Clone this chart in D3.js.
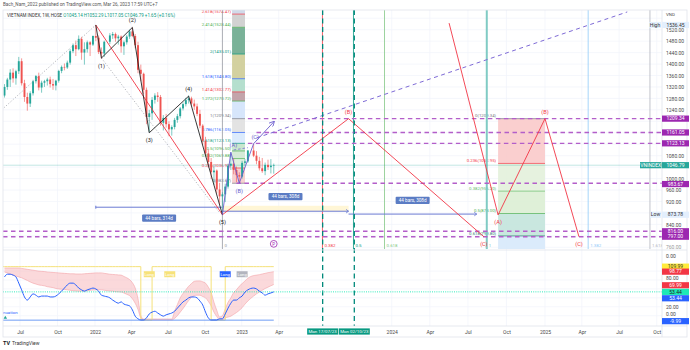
<!DOCTYPE html>
<html><head><meta charset="utf-8">
<script src="https://cdn.jsdelivr.net/npm/d3@7"></script>
<style>body{margin:0;background:#fff} svg{display:block;font-family:Roboto,'Liberation Sans',sans-serif}</style>
</head><body><svg id="c" width="690" height="350"></svg>
<script>
// ---------------- DATA ----------------
const weeks = [
 "2021-05-24","2021-05-31","2021-06-07","2021-06-14","2021-06-21","2021-06-28","2021-07-05","2021-07-12","2021-07-19","2021-07-26",
 "2021-08-02","2021-08-09","2021-08-16","2021-08-23","2021-08-30","2021-09-06","2021-09-13","2021-09-20","2021-09-27","2021-10-04",
 "2021-10-11","2021-10-18","2021-10-25","2021-11-01","2021-11-08","2021-11-15","2021-11-22","2021-11-29","2021-12-06","2021-12-13",
 "2021-12-20","2021-12-27",
 "2022-01-03","2022-01-10","2022-01-17","2022-01-24","2022-02-07","2022-02-14","2022-02-21","2022-02-28","2022-03-07","2022-03-14",
 "2022-03-21","2022-03-28","2022-04-04","2022-04-11","2022-04-18","2022-04-25","2022-05-02","2022-05-09","2022-05-16","2022-05-23",
 "2022-05-30","2022-06-06","2022-06-13","2022-06-20","2022-06-27","2022-07-04","2022-07-11","2022-07-18","2022-07-25","2022-08-01",
 "2022-08-08","2022-08-15","2022-08-22","2022-08-29","2022-09-05","2022-09-12","2022-09-19","2022-09-26","2022-10-03","2022-10-10",
 "2022-10-17","2022-10-24","2022-10-31","2022-11-07","2022-11-14","2022-11-21","2022-11-28","2022-12-05","2022-12-12","2022-12-19",
 "2022-12-26",
 "2023-01-02","2023-01-09","2023-01-16","2023-01-30","2023-02-06","2023-02-13","2023-02-20","2023-02-27","2023-03-06","2023-03-13",
 "2023-03-20"];
const opens = [
 1290,1320,1346,1370,1350,1375,1410,1333,1285,1262,1298,1340,1358,1318,1335,1340,1346,1330,1325,1342,1376,1390,1388,1405,1445,1466,1452,1488,1440,1452,1476,1468,
 1498,1492,1442,1437, 1478,1500,1505,1490, 1496,1462,1476,1496, 1514,1498,1466,1380, 1366,1310,1215,1228,1275, 1290,1285,1195,1212,
 1190,1172,1180,1205, 1218,1245,1260,1274,1280, 1262,1252,1226,1185, 1132,1088,1058,1022,1028, 962,938,945,972, 1045,1052,1030,1012,
 1007,1055,1060,1098,1080,1062,1036,1026,1048,1040,1045.14];
const highs = [
 1330,1352,1382,1385,1380,1425,1420,1345,1300,1305,1345,1362,1370,1342,1345,1352,1356,1348,1345,1380,1395,1402,1412,1452,1472,1482,1500,1495,1476,1482,1480,1500,
 1536.45,1500,1458,1482, 1508,1512,1510,1502, 1500,1482,1502,1520, 1528,1505,1478,1398, 1370,1318,1240,1285,1298, 1302,1292,1222,1226,
 1200,1186,1212,1226, 1250,1266,1282,1290,1286, 1276,1262,1240,1190, 1146,1102,1072,1045,1032, 985,952,982,1052, 1092,1070,1042,1022,
 1062,1068,1100,1122,1096,1076,1072,1056,1066,1068,1052.29];
const lows = [
 1283,1310,1320,1335,1328,1365,1325,1268,1237,1250,1290,1332,1308,1300,1320,1325,1318,1310,1308,1335,1368,1378,1383,1398,1438,1428,1448,1415,1398,1440,1428,1463,
 1480,1435,1418,1425, 1470,1488,1478,1468, 1440,1432,1468,1488, 1494,1455,1368,1340, 1295,1190,1162,1205,1262, 1268,1185,1168,1178,
 1148,1150,1172,1195, 1210,1238,1252,1262,1255, 1240,1218,1176,1118, 1078,1038,998,978,948, 910,873.78,918,965, 1030,1015,988,984,
 1000,1045,1055,1075,1050,1028,1020,1012,1030,1018,1017.05];
const closes = [
 1320,1346,1370,1350,1375,1410,1333,1285,1262,1298,1340,1358,1318,1335,1340,1346,1330,1325,1342,1376,1390,1388,1405,1445,1466,1452,1488,1440,1452,1476,1468,1498,
 1492,1442,1437,1478, 1500,1505,1490,1496, 1462,1476,1496,1514, 1498,1466,1380,1366, 1310,1215,1228,1275,1290, 1285,1195,1212,1190,
 1172,1180,1205,1218, 1245,1260,1274,1280,1262, 1252,1226,1185,1132, 1088,1058,1022,1028,962, 938,945,972,1045, 1052,1030,1012,1007,
 1055,1060,1098,1080,1062,1036,1026,1048,1040,1045.14,1046.79];
// oscillator (lower pane)
const oscValues = [
 87,93,93,91,87,73,58,42,35,42,49,46,42,44,44,44,42,42,44,49,55,62,69,73,73,69,62,58,55,58,60,62,
 60,55,46,44, 40,35,31,28, 31,26,24,22, 13,-1,-7,-9.6, -9.6,-5,4,8,10, 6,2,-1,2, 4,6,10,17, 24,31,35,40,42, 42,40,33,24, 8,-5,-9.6,-9.6,-9.6, -7,-7,4,17, 28,35,35,40,
 44,53,58,62,60,55,51,46,49,51,53.44];
const bandUpper = [
 107,107,107,107,107,107,106,105,104,103,102,101,100,99.5,99,98,97.5,97,96.5,96,95.5,95,94.5,94,94,93.5,93.5,93.5,94,94.5,95,95.5,
 96,96,96,95, 93,92.5,92,91.5, 91,88,85,81, 74,62,38,0, -7.5,-7.5,-7.5,-7.5,-7.5, -7.5,-7.5,-7.5,-7.5, -7.5,-7.5,10,25, 40,50,58,66,72, 77,78,78,76, 73,64,52,30,12, -3,0,15,30, 40,52,58,66,
 72,78,84,90,91,92,93.5,95,96.5,97.5,98.77];
const bandLower = [
 98,96,93.5,91,89,87,85,82,79,75.6,73,71,69,68,67,65,64,63,61,60,59.5,59,58,57,56,55.5,55,55,55.5,56,57,57.5,
 58,58,58,57, 55.5,55,54,53.5, 53,51,48,45, 38,28,14,-5, -9.6,-9.6,-9.6,-9.6,-9.6, -9.6,-9.6,-9.6,-9.6, -9.6,-9.6,-6,0, 8,16,25,34,41, 45,46,46,43, 40,32,22,8,-2, -9,-9,-5,-3, -1,3,7,12,
 18,26,33,44,49,53,57,61,64,67,69.99];
const longSignal = [
 1,1,1,1,1,1,1,1,1,1,1,1,1,1,1,1,1,1,1,1,1,1,1,1,1,1,1,1,1,1,1,1,
 1,1,1,1, 1,1,1,1, 1,1,1,1, 1,1,1,0, 0,0,0,1,1, 1,1,1,1, 1,1,1,1, 1,1,1,1,1, 1,1,1,1, 1,1,0,0,0, 0,0,1,1, 1,1,1,1,
 1,1,1,1,1,1,1,1,1,1,1];
const oscHi = 109.99, oscLo = -9.99, oscSignalLevel = 53.44;

// axes ticks
const timeTickDates = ["2021-07-01","2021-10-01","2022-01-01","2022-04-01","2022-07-01","2022-10-01","2023-01-01","2023-04-01",
  "2024-01-01","2024-04-01","2024-07-01","2024-10-01","2025-01-01","2025-04-01","2025-07-01","2025-10-01"];
const timeTickLabels = ["Jul","Oct","2022","Apr","Jul","Oct","2023","Apr","2024","Apr","Jul","Oct","2025","Apr","Jul","Oct"];
const priceTickLabels = [1520,1480,1440,1400,1360,1320,1280,1240,1080,1000,960,920,840,760];
const oscTickLabels = [80,20,0];

// drawings
const waveDates = ["2022-01-03","2022-01-17","2022-04-04","2022-05-16","2022-08-22","2022-11-14"];
const wavePrices = [1536.45,1421,1528,1160,1288,873.78];
const waveLabels = ["","(1)","(2)","(3)","(4)","(5)"];
const abcDates = ["2022-11-14","2022-12-05","2022-12-26","2023-01-30"];
const abcPrices = [873.78,1092,984,1122];
const abcLabels = ["","(A)","(B)","(C)"];
const redPathADates = ["2022-01-03","2022-11-14","2023-09-18","2024-08-08"];
const redPathAPrices = [1536.45,873.78,1209.34,797];
const redPathALabels = ["","","(B)","(C)"];
const redPathBDates = ["2024-05-17","2024-09-11","2025-01-01","2025-03-25"];
const redPathBPrices = [1543,873,1209.34,797];
const redPathBLabels = ["","(A)","(B)","(C)"];
const levelPrices = [1209.34,1161.05,1123.13,983.67,816.00,797.00];
const levelStarts = ["2023-01-16","2023-02-06","2023-01-16","2022-12-19","2021-05-01","2021-05-01"];
const fibL_levels = [0,0.236,0.382,0.5,0.618,0.786,1,1.272,1.414,1.618,2,2.414,2.618,3.618];
const fibL_colors = ["#787b86","#f23645","#4caf50","#4caf50","#089981","#2962ff","#787b86","#4caf50","#f23645","#2962ff","#089981","#4caf50","#f23645","#9c27b0"];
const fibL_bands = ["#f6c8c8","#dcefdc","#cfe8d0","#bfe3c6","#d6e8fb","#dedede","#d0e2fa","#b9959c","#a8d9c6","#cbc98f","#63a586","#cacaca","#c9d3e6"];
const fibR_levels = [0,0.236,0.382,0.5,0.618,0.786];
const fibR_colors = ["#787b86","#f23645","#66bb6a","#4caf50","#2e7d6f","#64b5f6"];
const fibR_bands = ["#f9caca","#e3f1dc","#dceed4","#c3e4dc","#d7e9fb"];
const zoneLevels = [0,0.382,0.5,0.618,1,1.382,1.618];
const zoneColors = ["#9598a1","#f23645","#089981","#81c784","#80cbc4","#90caf9","#b2b5be"];
const rangeFrom = ["2022-01-03","2022-11-14","2023-09-18"];
const rangeTo = ["2022-11-14","2023-09-18","2024-07-22"];
const rangePrice = [900,886,876];
const rangeText = ["44 bars, 314d","44 bars, 308d","44 bars, 308d"];
const rangeLabelPrice = [862,937,924];
const vDates = ["2023-07-17","2023-10-02"];
const vLabels = ["Mon 17/07/23","Mon 02/10/23"];
const longDates = ["2022-05-16","2022-07-06","2022-11-21","2023-01-02"];
const longColors = ["#f7e27a","#f7e27a","#2962ff","#b2b5be"];

// ---------------- SCALES ----------------
const P = d3.utcParse("%Y-%m-%d");
const L = 3, R = 662, MT = 10, MB = 249, OT = 251, OB = 326, TB = 337;
const x = d3.scaleUtc()
  .domain(["2021-07-01","2022-01-01","2023-01-01","2024-01-01","2025-01-01","2025-10-01"].map(P))
  .range([20,95,241.7,391.7,545,656.7]);
const y = d3.scaleLinear().domain([760,1520]).range([247.3,29.7]);
const yo = d3.scaleLinear().domain([0,100]).range([315.7,271.1]);

const svg = d3.select("#c");
const FS = 5;
svg.append("rect").attr("width",690).attr("height",350).attr("fill","#fff");
const defs = svg.append("defs");
defs.append("clipPath").attr("id","cm").append("rect").attr("x",L).attr("y",MT).attr("width",R-L).attr("height",MB-MT);
defs.append("clipPath").attr("id","co").append("rect").attr("x",L).attr("y",OT).attr("width",R-L).attr("height",OB-OT);
defs.append("marker").attr("id","arr").attr("viewBox","0 0 10 10").attr("refX",8).attr("refY",5)
  .attr("markerWidth",6).attr("markerHeight",6).attr("orient","auto")
  .append("path").attr("d","M0,0 L10,5 L0,10").attr("fill","none").attr("stroke","#6a5acd").attr("stroke-width",1.5);

// header
svg.append("text").attr("x",3).attr("y",6).attr("font-size",4.6).attr("fill","#555")
  .text("Bach_Nam_2022 published on TradingView.com, Mar 26, 2023 17:59 UTC+7");

// grid
const grid = svg.append("g").attr("stroke","#f0f3fa").attr("stroke-width",0.7);
timeTickDates.forEach(d=>{ grid.append("line").attr("x1",x(P(d))).attr("x2",x(P(d))).attr("y1",MT).attr("y2",OB); });
d3.range(760,1561,40).forEach(p=>{ if(y(p)>MT) grid.append("line").attr("x1",L).attr("x2",R).attr("y1",y(p)).attr("y2",y(p)); });
[0,20,40,60,80,100].forEach(v=>grid.append("line").attr("x1",L).attr("x2",R).attr("y1",yo(v)).attr("y2",yo(v)));

const main = svg.append("g").attr("clip-path","url(#cm)");

// left fib column
const fLx0 = x(P("2022-12-08")), fLx1 = x(P("2023-01-09"));
const fibLPrice = l => 983.67 + l*(1209.34-983.67);
fibL_bands.forEach((c,k)=>{
  const yTop = y(fibLPrice(fibL_levels[k+1])), yBot = y(fibLPrice(fibL_levels[k]));
  main.append("rect").attr("x",fLx0).attr("width",fLx1-fLx0).attr("y",yTop).attr("height",yBot-yTop).attr("fill",c).attr("opacity",0.85);
});
fibL_levels.slice(0,13).forEach((l,k)=>{
  const yy = y(fibLPrice(l));
  main.append("line").attr("x1",fLx0).attr("x2",fLx1).attr("y1",yy).attr("y2",yy).attr("stroke",fibL_colors[k]).attr("stroke-width",0.7);
  main.append("text").attr("x",fLx0-1).attr("y",yy-1.2).attr("text-anchor","end").attr("font-size",4.3)
    .attr("fill",fibL_colors[k]).text(`${l}(${fibLPrice(l).toFixed(2)})`);
});

// right fib
const fRx0 = x(P("2024-09-11")), fRx1 = x(P("2025-01-01"));
const fibRPrice = l => 1209.34 - l*(1209.34-546.66);
fibR_bands.forEach((c,k)=>{
  const yTop = y(fibRPrice(fibR_levels[k])), yBot = y(fibRPrice(fibR_levels[k+1]));
  main.append("rect").attr("x",fRx0).attr("width",fRx1-fRx0).attr("y",yTop).attr("height",yBot-yTop).attr("fill",c).attr("opacity",0.9);
});
fibR_levels.slice(0,5).forEach((l,k)=>{
  const yy = y(fibRPrice(l));
  main.append("line").attr("x1",fRx0).attr("x2",fRx1).attr("y1",yy).attr("y2",yy).attr("stroke",fibR_colors[k]).attr("stroke-width",0.7);
  main.append("text").attr("x",fRx0-2).attr("y",yy-1.2).attr("text-anchor","end").attr("font-size",4.3)
    .attr("fill",fibR_colors[k]).text(`${l}(${fibRPrice(l).toFixed(2)})`);
});

// fib time zones
const zt0 = P("2022-11-14").getTime(), zt1 = P("2024-08-15").getTime();
zoneLevels.forEach((l,k)=>{
  const xx = x(new Date(zt0 + l*(zt1-zt0)));
  main.append("line").attr("x1",xx).attr("x2",xx).attr("y1",MT).attr("y2",MB)
    .attr("stroke",zoneColors[k]).attr("stroke-width", l===1?2:0.8);
  main.append("text").attr("x",xx+2).attr("y",246.5).attr("font-size",4.4).attr("fill",zoneColors[k]).text(l);
});

// range measurements
rangeFrom.forEach((f,k)=>{
  const x0 = x(P(f)), x1 = x(P(rangeTo[k])), yy = y(rangePrice[k]);
  if(k===1) main.append("rect").attr("x",x0).attr("y",y(905)).attr("width",x1-x0).attr("height",yy-y(905)).attr("fill","#fff4cc").attr("opacity",0.8);
  main.append("line").attr("x1",x0).attr("x2",x1).attr("y1",yy).attr("y2",yy).attr("stroke","#6b7bd3").attr("stroke-width",1);
  if(k===0) main.append("line").attr("x1",x0).attr("x2",x0).attr("y1",yy-1.5).attr("y2",yy+1.5).attr("stroke","#6b7bd3");
  else main.append("path").attr("d",`M${x1-2.5},${yy-1.8} L${x1},${yy} L${x1-2.5},${yy+1.8}`).attr("fill","none").attr("stroke","#6b7bd3").attr("stroke-width",0.8);
  const cx = (x0+x1)/2, cy = y(rangeLabelPrice[k]);
  main.append("rect").attr("x",cx-17).attr("y",cy-3.6).attr("width",34).attr("height",7.2).attr("rx",1).attr("fill","#5b7cc4");
  main.append("text").attr("x",cx).attr("y",cy+1.7).attr("text-anchor","middle").attr("font-size",4.6).attr("fill","#fff").text(rangeText[k]);
});

// current price line
main.append("line").attr("x1",L).attr("x2",R).attr("y1",y(1046.79)).attr("y2",y(1046.79)).attr("stroke","#26a69a").attr("stroke-opacity",0.35).attr("stroke-width",0.8);

// candles
const up = "#26a69a", dn = "#ef5350";
weeks.forEach((d,i)=>{
  const xx = x(P(d)), c = closes[i]>=opens[i]?up:dn;
  main.append("line").attr("x1",xx).attr("x2",xx).attr("y1",y(highs[i])).attr("y2",y(lows[i])).attr("stroke",c).attr("stroke-width",0.6);
  const yT = y(Math.max(opens[i],closes[i])), yB = y(Math.min(opens[i],closes[i]));
  main.append("rect").attr("x",xx-0.95).attr("width",1.9).attr("y",yT).attr("height",Math.max(0.6,yB-yT)).attr("fill",c);
});

// horizontal purple levels
levelPrices.forEach((p,k)=>{
  main.append("line").attr("x1",Math.max(L,x(P(levelStarts[k])))).attr("x2",R).attr("y1",y(p)).attr("y2",y(p))
    .attr("stroke","#b35ec9").attr("stroke-width",1.4).attr("stroke-dasharray","4.5,3.5");
});

// gray dotted helper lines
const dotted = [[["2021-05-17",1240],["2022-01-03",1536.45]],[["2022-01-17",1421],["2022-11-07",880]]];
dotted.forEach(seg=>{
  main.append("line").attr("x1",x(P(seg[0][0]))).attr("y1",y(seg[0][1])).attr("x2",x(P(seg[1][0]))).attr("y2",y(seg[1][1]))
    .attr("stroke","#9598a1").attr("stroke-width",0.7).attr("stroke-dasharray","1.2,1.8");
});

// paths
const lineGen = d3.line().x(d=>x(P(d[0]))).y(d=>y(d[1]));
function drawPath(dates, prices, labels, color, w, above, dxFn){
  const pts = dates.map((d,i)=>[d,prices[i]]);
  main.append("path").attr("d",lineGen(pts)).attr("fill","none").attr("stroke",color).attr("stroke-width",w);
  pts.forEach((p,i)=>{
    if(!labels[i]) return;
    const hi = above(i);
    main.append("text").attr("x",x(P(p[0])) + (dxFn?dxFn(i):0)).attr("y",y(p[1]) + (hi?-5:9.5)).attr("text-anchor","middle")
      .attr("font-size",5.6).attr("fill",color).text(labels[i]);
  });
}
drawPath(redPathADates, redPathAPrices, redPathALabels, "#f23645", 0.9, i=>i===2);
drawPath(redPathBDates, redPathBPrices, redPathBLabels, "#f23645", 0.9, i=>i===2);
drawPath(waveDates, wavePrices, waveLabels, "#222", 0.9, i=>i===2||i===4);
drawPath(abcDates, abcPrices, abcLabels, "#6a5acd", 0.9, i=>i!==2, i=>i===1?2.5:(i===3?1.5:0));

// purple arrow and long dashed projection
main.append("line").attr("x1",x(P("2023-01-30"))).attr("y1",y(1122)).attr("x2",x(P("2023-03-20"))).attr("y2",y(1198))
  .attr("stroke","#6a5acd").attr("stroke-width",0.9).attr("marker-end","url(#arr)");
main.append("line").attr("x1",x(P("2023-02-06"))).attr("y1",y(1142)).attr("x2",x(P("2025-07-21"))).attr("y2",y(1582))
  .attr("stroke","#7e6ad6").attr("stroke-width",1).attr("stroke-dasharray","4,3.5");
main.append("line").attr("x1",x(P("2022-12-12"))).attr("y1",y(1100)).attr("x2",x(P("2023-01-16"))).attr("y2",y(1108))
  .attr("stroke","#7e6ad6").attr("stroke-width",0.8).attr("stroke-dasharray","2.5,2");

// idea icon
main.append("circle").attr("cx",x(P("2023-03-20"))).attr("cy",y(772)).attr("r",3.4).attr("fill","#fff").attr("stroke","#9c27b0").attr("stroke-width",0.8);
main.append("text").attr("x",x(P("2023-03-20"))).attr("y",y(772)+1.7).attr("text-anchor","middle").attr("font-size",4.5).attr("fill","#9c27b0").text("P");

// vertical teal dashed lines
vDates.forEach(d=>{
  svg.append("line").attr("x1",x(P(d))).attr("x2",x(P(d))).attr("y1",MT).attr("y2",OB)
    .attr("stroke","#00897b").attr("stroke-width",1.3).attr("stroke-dasharray","5,3.5");
});

// legend
const leg = svg.append("text").attr("x",7).attr("y",17).attr("font-size",4.5);
leg.append("tspan").attr("fill","#333").text("VIETNAM INDEX, 1W, HOSE ");
leg.append("tspan").attr("fill","#089981").text(`O${opens[93]} H${highs[93]} L${lows[93]} C${closes[93]} +1.65 (+0.16%)`);

// ---------------- OSCILLATOR ----------------
const osc = svg.append("g").attr("clip-path","url(#co)");
const od = weeks.map((d,i)=>({t:P(d),v:oscValues[i],u:bandUpper[i],l:bandLower[i],s:longSignal[i]}));
osc.append("path").attr("d",d3.area().x(d=>x(d.t)).y0(d=>yo(d.l)).y1(d=>yo(d.u)).curve(d3.curveMonotoneX)(od))
  .attr("fill","#f8b4b8").attr("fill-opacity",0.5);
["u","l"].forEach(k=>osc.append("path").attr("d",d3.line().x(d=>x(d.t)).y(d=>yo(d[k])).curve(d3.curveMonotoneX)(od))
  .attr("fill","none").attr("stroke","#f4a3a8").attr("stroke-width",0.6));
osc.append("path").attr("d",d3.line().x(d=>x(d.t)).y(d=>yo(d.s?oscHi:oscLo)).curve(d3.curveStepAfter)([{t:P("2021-05-10"),s:1},...od]))
  .attr("fill","none").attr("stroke","#f5e17a").attr("stroke-width",1);
osc.append("line").attr("x1",L).attr("x2",x(P(weeks[weeks.length-1]))).attr("y1",yo(oscLo)).attr("y2",yo(oscLo))
  .attr("stroke","#6d9cf5").attr("stroke-width",1);
osc.append("line").attr("x1",L).attr("x2",R).attr("y1",yo(oscSignalLevel)).attr("y2",yo(oscSignalLevel))
  .attr("stroke","#1de9b6").attr("stroke-width",0.9).attr("stroke-dasharray","1,1.2");
osc.append("path").attr("d",d3.line().x(d=>x(d.t)).y(d=>yo(d.v)).curve(d3.curveMonotoneX)(od))
  .attr("fill","none").attr("stroke","#2962ff").attr("stroke-width",1);
longDates.forEach((d,k)=>{
  const cx = x(P(d)), cy = yo(93);
  osc.append("rect").attr("x",cx-5.5).attr("y",cy-3).attr("width",11).attr("height",6).attr("fill",longColors[k]);
  osc.append("text").attr("x",cx).attr("y",cy+1.6).attr("text-anchor","middle").attr("font-size",4.2).attr("fill","#fff").text("Long");
});
osc.append("text").attr("x",3).attr("y",yo(-9.99)-6).attr("font-size",4.4).attr("fill","#2962ff").text("nuation");
osc.append("path").attr("d",`M3.5,${yo(-9.99)-1.5} l1.8,-2.8 l1.8,2.8 z`).attr("fill","#26a69a");

// ---------------- FRAME & AXES ----------------
const fr = svg.append("g").attr("stroke","#e0e3eb").attr("stroke-width",0.8).attr("fill","none");
fr.append("rect").attr("x",L).attr("y",MT).attr("width",687-L).attr("height",TB-MT);
fr.append("line").attr("x1",R).attr("x2",R).attr("y1",MT).attr("y2",TB);
fr.append("line").attr("x1",L).attr("x2",687).attr("y1",250).attr("y2",250);
fr.append("line").attr("x1",L).attr("x2",687).attr("y1",OB).attr("y2",OB);

function styleAxis(g){ g.select(".domain").remove(); g.selectAll("text").attr("font-size",FS).attr("fill","#4a4a4a").attr("font-family","Roboto,'Liberation Sans',sans-serif"); }
const pa = svg.append("g").attr("transform",`translate(${R+1},0)`)
  .call(d3.axisRight(y).tickValues(priceTickLabels).tickFormat(d3.format(".2f")).tickSize(0).tickPadding(3));
styleAxis(pa);
pa.selectAll(".tick").filter(d=>d===760).select("text").attr("fill","#999");
const oa = svg.append("g").attr("transform",`translate(${R+1},0)`)
  .call(d3.axisRight(yo).tickValues(oscTickLabels).tickFormat(d3.format(".2f")).tickSize(0).tickPadding(3));
styleAxis(oa);
oa.selectAll(".tick").filter(d=>d===80).attr("transform",`translate(0,${yo(80)-1.2})`);
oa.selectAll(".tick").filter(d=>d===0).attr("transform",`translate(0,${yo(0)-1.6})`);
svg.append("text").attr("x",R+4).attr("y",257.5).attr("font-size",FS).attr("fill","#4a4a4a").text("0.00");
svg.append("text").attr("x",R+4).attr("y",16).attr("font-size",4.4).attr("fill","#4a4a4a").text("VND");
const ta = svg.append("g").attr("transform",`translate(0,${OB+1})`)
  .call(d3.axisBottom(x).tickValues(timeTickDates.map(P)).tickFormat((d,i)=>timeTickLabels[i]).tickSize(0).tickPadding(3));
styleAxis(ta);

function box(yc, txt, bg, fg, xl, w, fs){
  const f = fs||FS;
  svg.append("rect").attr("x",xl).attr("y",yc-3.1).attr("width",w).attr("height",6.2).attr("fill",bg);
  svg.append("text").attr("x",xl+w/2).attr("y",yc+1.7).attr("text-anchor","middle").attr("font-size",f).attr("fill",fg).text(txt);
}
levelPrices.forEach(p=>box(y(p)+(p===983.67?0.8:0), p.toFixed(2), "#9c27b0", "#fff", R, 27));
box(y(1046.79), "1046.79", "#26a69a", "#fff", R, 27);
box(y(1046.79), "VNINDEX", "#26a69a", "#fff", R-22, 21.5);
box(y(1536.45), "1536.45", "#e3effd", "#333", R, 27);
box(y(1536.45), "High", "#e3effd", "#333", R-13, 12);
box(y(873.78), "873.78", "#e3effd", "#333", R, 27);
box(y(873.78), "Low", "#e3effd", "#333", R-12, 11);
box(yo(109.99), "109.99", "#ffeb3b", "#333", R, 27);
box(yo(98.77), "98.77", "#f23645", "#fff", R, 27);
box(yo(69.99)+0.8, "69.99", "#f23645", "#fff", R, 27);
box(yo(53.44), "53.44", "#1de9b6", "#222", R, 27);
box(yo(53.44)+6.4, "53.44", "#2962ff", "#fff", R, 27);
box(yo(-9.99)+1, "-9.99", "#2962ff", "#fff", R, 27);
vDates.forEach((d,k)=>box(OB+5.5, vLabels[k], "#089981", "#fff", x(P(d))-15.5, 31, 4.4));

// footer
svg.append("text").attr("x",3).attr("y",345).attr("font-size",5.5).attr("font-weight","bold").attr("fill","#131722").text("TV");
svg.append("text").attr("x",12).attr("y",345).attr("font-size",5).attr("fill","#333").text("TradingView");
</script></body></html>
